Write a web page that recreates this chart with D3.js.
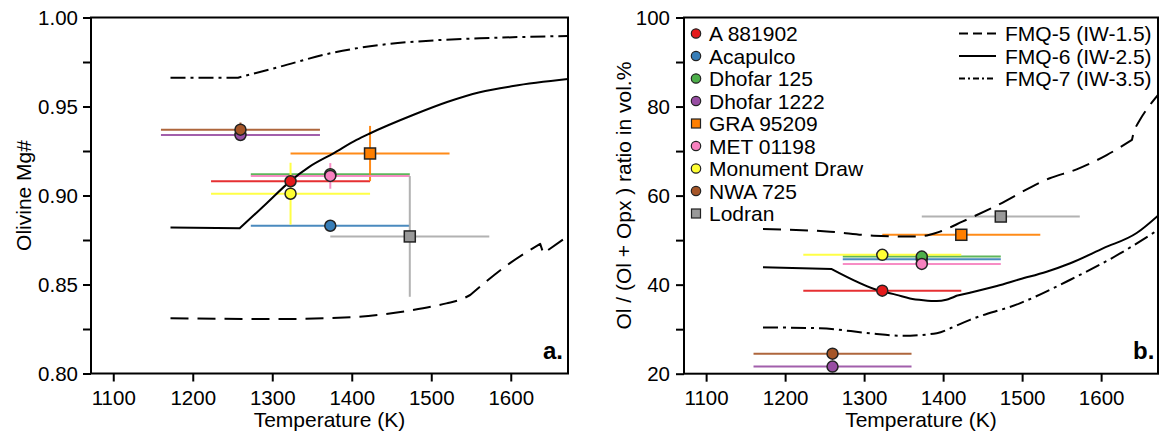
<!DOCTYPE html>
<html><head><meta charset="utf-8">
<script src="https://cdn.jsdelivr.net/npm/d3@7"></script>
<style>
body{margin:0;background:#fff}
svg{display:block}
text{font-family:"Liberation Sans",Arial,Helvetica,sans-serif;fill:#000}
</style>
</head><body>
<svg id="c" width="1162" height="434"></svg>
<script>
// ---------- data ----------
const names   = ["A 881902","Acapulco","Dhofar 125","Dhofar 1222","GRA 95209","MET 01198","Monument Draw","NWA 725","Lodran"];
const colors  = ["#e41a1c","#377eb8","#4daf4a","#984ea3","#ff7f00","#f781bf","#ffff33","#a65628","#999999"];
const shapes  = ["circle","circle","circle","circle","square","circle","circle","circle","square"];
const temps   = [1323,1373,1373,1260,1423,1373,1323,1260,1473];
const tempErr = [100,100,100,100,100,100,100,100,100];
const mgNum   = [0.908,0.883,0.912,0.934,0.9236,0.911,0.901,0.937,0.877];
const mgErr   = [0.002,0,0,0,0.0155,0.0072,0.0174,0.004,0.0339];
const olRatio = [38.65,45.7,46.3,21.6,51.2,44.65,46.7,24.5,55.3];
const olErr   = [0,0,0,0,0,0,0,0,0];

const curveNames = ["FMQ-5 (IW-1.5)","FMQ-6 (IW-2.5)","FMQ-7 (IW-3.5)"];
// panel a curves (Mg#); *Br = indices where the curve has a corner
const fmq5aT  = [1172,1310,1398,1477,1519,1538,1549,1599,1637,1641,1672];
const fmq5aY  = [0.831,0.8306,0.8316,0.8357,0.8394,0.8417,0.8441,0.862,0.8728,0.8675,0.8772];
const fmq5aBr = [6,8,9];
const fmq6aT  = [1172,1259,1293,1322,1347,1377,1406,1422,1477,1520,1561,1603,1672];
const fmq6aY  = [0.882,0.8816,0.8956,0.9078,0.9162,0.9237,0.9312,0.9347,0.9452,0.9525,0.958,0.9615,0.9654];
const fmq6aBr = [1];
const fmq7aT  = [1172,1257,1310,1373,1436,1498,1561,1672];
const fmq7aY  = [0.9662,0.9662,0.9724,0.9799,0.9846,0.987,0.9883,0.9896];
const fmq7aBr = [1];
// panel b curves (Ol ratio)
const fmq5bT  = [1172,1257,1312,1368,1383,1396,1425,1465,1535,1569,1607,1639,1642,1649,1672];
const fmq5bY  = [52.5,51.9,51.0,50.8,51.2,51.9,54.2,57.5,63.9,65.9,69.1,72.5,74.8,77.0,82.6];
const fmq5bBr = [11,12];
const fmq6bT  = [1172,1259,1320,1341,1358,1375,1392,1404,1417,1434,1468,1497,1531,1561,1603,1645,1672];
const fmq6bY  = [43.9,43.5,38.6,37.7,36.9,36.5,36.3,36.6,37.5,38.2,39.7,41.2,42.9,44.8,48.2,51.6,55.5];
const fmq6bBr = [1,8];
const fmq7bT  = [1172,1244,1307,1349,1392,1409,1434,1497,1561,1624,1672];
const fmq7bY  = [30.4,30.2,29.1,28.5,29.1,30.2,32.1,35.8,41.1,47.0,52.3];
const fmq7bBr = [5];

const xTicks   = [1100,1200,1300,1400,1500,1600];
const yTicksA  = [0.80,0.85,0.90,0.95,1.00];
const yMinorA  = [0.825,0.875,0.925,0.975];
const yTicksB  = [20,40,60,80,100];
const yMinorB  = [30,50,70,90];

// ---------- drawing ----------
const svg = d3.select("#c");
const dashes = ["18,9", null, "15,5,3,5"];

function pathWithCorners(pts, br, line){
  const cuts = [0, ...br, pts.length-1];
  let d = "";
  for(let s=0;s<cuts.length-1;s++){
    const seg = pts.slice(cuts[s], cuts[s+1]+1);
    let sd = line(seg);
    if(s>0) sd = "L" + sd.slice(1);   // continue the same subpath so dashes flow on
    d += sd;
  }
  return d;
}

function panel(cfg){
  const x = d3.scaleLinear().domain([1072,1672]).range([cfg.left,cfg.right]);
  const y = d3.scaleLinear().domain(cfg.yDomain).range([cfg.bottom,cfg.top]);
  const g = svg.append("g");
  const clipId = "clip"+cfg.id;
  svg.append("clipPath").attr("id",clipId).append("rect")
    .attr("x",cfg.left).attr("y",cfg.top).attr("width",cfg.right-cfg.left).attr("height",cfg.bottom-cfg.top);

  // axes
  const xa = g.append("g").attr("transform",`translate(0,${cfg.bottom})`)
    .call(d3.axisBottom(x).tickValues(xTicks).tickSize(8).tickPadding(9).tickFormat(d3.format("d")));
  const ya = g.append("g").attr("transform",`translate(${cfg.left},0)`)
    .call(d3.axisLeft(y).tickValues(cfg.yTicks).tickSize(8).tickPadding(cfg.yPad).tickFormat(cfg.yFmt));
  const ym = g.append("g").attr("transform",`translate(${cfg.left},0)`)
    .call(d3.axisLeft(y).tickValues(cfg.yMinor).tickSize(8).tickFormat(""));
  [xa,ya,ym].forEach(a=>{
    a.select(".domain").remove();
    a.selectAll("line").attr("stroke","#000").attr("stroke-width",2);
    a.selectAll("text").attr("font-size",20.5).attr("fill","#000")
      .style("font-family","'Liberation Sans',Arial,sans-serif");
  });

  // error bars
  const eb = g.append("g");
  names.forEach((n,i)=>{
    const c = colors[i]==="#999999" ? "#aaaaaa" : colors[i];
    const v = cfg.vals[i], e = cfg.errs[i];
    eb.append("line").attr("x1",x(temps[i]-tempErr[i])).attr("x2",x(temps[i]+tempErr[i]))
      .attr("y1",y(v)).attr("y2",y(v)).attr("stroke",c).attr("stroke-width",2).attr("opacity",0.9);
    if(e>0){
      eb.append("line").attr("x1",x(temps[i])).attr("x2",x(temps[i]))
        .attr("y1",y(v-e)).attr("y2",y(v+e)).attr("stroke",c).attr("stroke-width",2).attr("opacity",0.9);
    }
  });

  // curves
  const line = d3.line().x(d=>x(d[0])).y(d=>y(d[1])).curve(d3.curveMonotoneX);
  const cg = g.append("g").attr("clip-path",`url(#${clipId})`);
  cfg.curves.forEach((cv,k)=>{
    cg.append("path").attr("d",pathWithCorners(d3.zip(cv[0],cv[1]),cv[2],line))
      .attr("fill","none").attr("stroke","#000").attr("stroke-width",2)
      .attr("stroke-linejoin","round")
      .attr("stroke-dasharray",dashes[k]);
  });

  // points
  const pg = g.append("g");
  names.forEach((n,i)=>{
    const px = x(temps[i]), py = y(cfg.vals[i]);
    if(shapes[i]==="square"){
      pg.append("rect").attr("x",px-5.5).attr("y",py-5.5).attr("width",11).attr("height",11)
        .attr("fill",colors[i]).attr("stroke","#222").attr("stroke-width",1.5);
    } else {
      pg.append("circle").attr("cx",px).attr("cy",py).attr("r",5.5)
        .attr("fill",colors[i]).attr("stroke","#222").attr("stroke-width",1.5);
    }
  });

  // frame
  g.append("rect").attr("x",cfg.left).attr("y",cfg.top).attr("width",cfg.right-cfg.left)
    .attr("height",cfg.bottom-cfg.top).attr("fill","none").attr("stroke","#000").attr("stroke-width",2);

  // titles
  g.append("text").attr("x",(cfg.left+cfg.right)/2).attr("y",427).attr("text-anchor","middle")
    .attr("font-size",21).text("Temperature (K)");
  g.append("text").attr("transform",`translate(${cfg.yTitleX},${(cfg.top+cfg.bottom)/2}) rotate(-90)`)
    .attr("text-anchor","middle").attr("font-size",21).text(cfg.yTitle);
  g.append("text").attr("x",cfg.labelX).attr("y",359).attr("font-size",24).attr("font-weight","bold")
    .text(cfg.label);
  return {x,y,g};
}

panel({id:"a",left:91,right:568,top:17.5,bottom:373.5,yDomain:[0.80,1.00],
  yTicks:yTicksA,yMinor:yMinorA,yFmt:d3.format(".2f"),yPad:5,
  vals:mgNum,errs:mgErr,
  curves:[[fmq5aT,fmq5aY,fmq5aBr],[fmq6aT,fmq6aY,fmq6aBr],[fmq7aT,fmq7aY,fmq7aBr]],
  yTitle:"Olivine Mg#",yTitleX:31,label:"a.",labelX:543});

panel({id:"b",left:684,right:1158,top:17.5,bottom:373.7,yDomain:[20,100],
  yTicks:yTicksB,yMinor:yMinorB,yFmt:d3.format("d"),yPad:6,
  vals:olRatio,errs:olErr,
  curves:[[fmq5bT,fmq5bY,fmq5bBr],[fmq6bT,fmq6bY,fmq6bBr],[fmq7bT,fmq7bY,fmq7bBr]],
  yTitle:"Ol / (Ol + Opx ) ratio in vol.%",yTitleX:631,label:"b.",labelX:1133});

// legends
const lg = svg.append("g");
const rowY = i => 33.5 + i*22.5;
names.forEach((n,i)=>{
  if(shapes[i]==="square"){
    lg.append("rect").attr("x",696-4.5).attr("y",rowY(i)-4.5).attr("width",9).attr("height",9)
      .attr("fill",colors[i]).attr("stroke","#222").attr("stroke-width",1.2);
  } else {
    lg.append("circle").attr("cx",696).attr("cy",rowY(i)).attr("r",4.7)
      .attr("fill",colors[i]).attr("stroke","#222").attr("stroke-width",1.2);
  }
  lg.append("text").attr("x",709).attr("y",rowY(i)).attr("dy","0.36em").attr("font-size",21).text(n);
});
curveNames.forEach((n,k)=>{
  lg.append("line").attr("x1",959).attr("x2",996).attr("y1",rowY(k)).attr("y2",rowY(k))
    .attr("stroke","#000").attr("stroke-width",2).attr("stroke-dasharray",k===0?"9,5":(k===2?"6,3,2,3":null));
  lg.append("text").attr("x",1005).attr("y",rowY(k)).attr("dy","0.36em").attr("font-size",21).text(n);
});
</script>
</body></html>
